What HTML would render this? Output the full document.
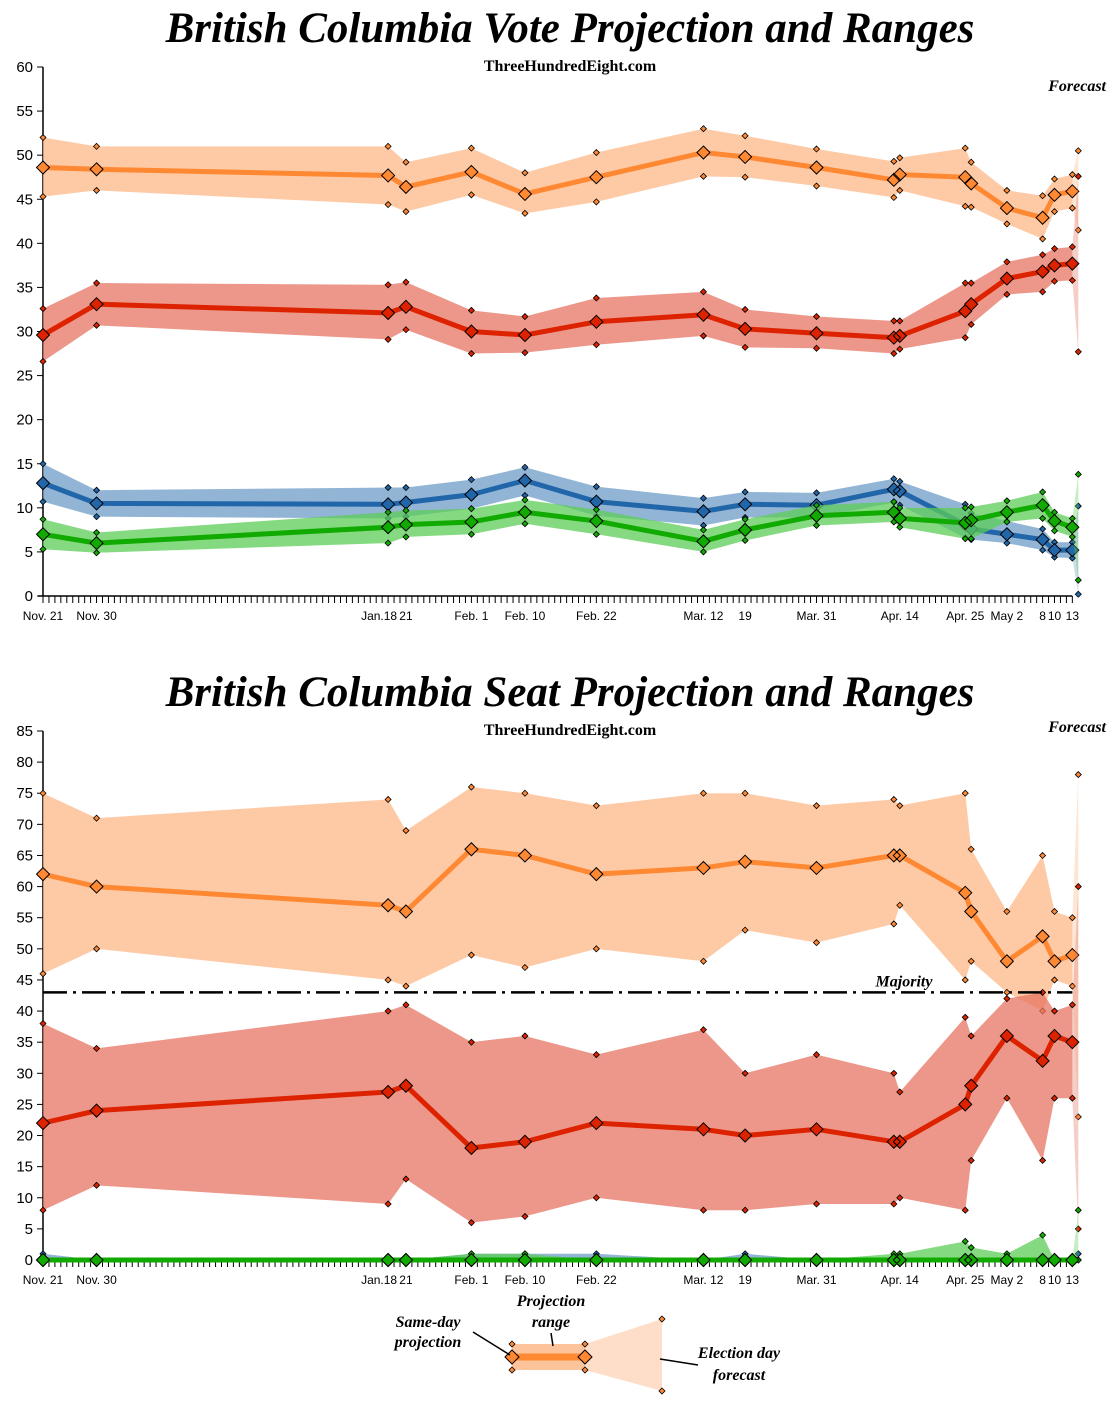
<!DOCTYPE html>
<html><head><meta charset="utf-8">
<style>
body{margin:0;background:#fff;}
svg{display:block;font-family:"Liberation Sans",Arial,sans-serif;}
.title{font-family:"Liberation Serif",serif;font-weight:bold;font-style:italic;font-size:43px;}
.sub{font-family:"Liberation Serif",serif;font-weight:bold;font-size:16px;}
.it{font-family:"Liberation Serif",serif;font-weight:bold;font-style:italic;font-size:16px;}
.tick{font-size:15px;}
.xl{font-size:12px;}
</style></head>
<body>
<svg id="svg" width="1119" height="1414" viewBox="0 0 1119 1414" xmlns="http://www.w3.org/2000/svg">
<text class="title" x="570" y="42" text-anchor="middle">British Columbia Vote Projection and Ranges</text>
<text class="sub" x="570" y="71" text-anchor="middle">ThreeHundredEight.com</text>
<text class="it" x="1106" y="91" text-anchor="end">Forecast</text>
<text class="title" x="570" y="706" text-anchor="middle">British Columbia Seat Projection and Ranges</text>
<text class="sub" x="570" y="735" text-anchor="middle">ThreeHundredEight.com</text>
<text class="it" x="1106" y="732" text-anchor="end">Forecast</text>
<g id="vote"></g>
<g id="seat"></g>
<g id="legend">
  <polygon points="585,1344 662,1319 662,1391 585,1370" fill="#fdc39a" opacity="0.55"/>
  <rect x="512" y="1344" width="73" height="26" fill="#fdc39a"/>
  <line x1="512" y1="1357" x2="585" y2="1357" stroke="#ff8833" stroke-width="7"/>
  <path d="M512,1350 L519,1357 L512,1364 L505,1357Z" fill="#ff8833" stroke="#000" stroke-width="1"/>
  <path d="M585,1350 L592,1357 L585,1364 L578,1357Z" fill="#ff8833" stroke="#000" stroke-width="1"/>
  <path d="M512,1341 L515,1344 L512,1347 L509,1344Z M512,1367 L515,1370 L512,1373 L509,1370Z M585,1341 L588,1344 L585,1347 L582,1344Z M585,1367 L588,1370 L585,1373 L582,1370Z M662,1316 L665,1319 L662,1322 L659,1319Z M662,1388 L665,1391 L662,1394 L659,1391Z" fill="#ff8833" stroke="#000" stroke-width="0.8"/>
  <line x1="473" y1="1332" x2="510" y2="1355" stroke="#000" stroke-width="1.5"/>
  <line x1="551" y1="1333" x2="553" y2="1346" stroke="#000" stroke-width="1.5"/>
  <line x1="660" y1="1359" x2="698" y2="1365" stroke="#000" stroke-width="1.5"/>
  <text class="it" x="428" y="1327" text-anchor="middle">Same-day</text>
  <text class="it" x="428" y="1347" text-anchor="middle">projection</text>
  <text class="it" x="551" y="1306" text-anchor="middle">Projection</text>
  <text class="it" x="551" y="1327" text-anchor="middle">range</text>
  <text class="it" x="739" y="1358" text-anchor="middle">Election day</text>
  <text class="it" x="739" y="1380" text-anchor="middle">forecast</text>
</g>
</svg>
<script>
// shared dates (days since Nov. 21)
const days = [0,9,58,61,72,81,93,111,118,130,143,144,155,156,162,168,170,173];
const electionDay = 174;
const xTickDays = [0,9,58,61,72,81,93,111,118,130,144,155,162,168,170,173];
const xTickLabels = ["Nov. 21","Nov. 30","Jan.18","21","Feb. 1","Feb. 10","Feb. 22","Mar. 12","19","Mar. 31","Apr. 14","Apr. 25","May 2","8","10","13"];

// vote projections (%)
const voteOrange = [48.6,48.4,47.7,46.4,48.1,45.6,47.5,50.3,49.8,48.6,47.2,47.8,47.5,46.8,44.0,42.9,45.5,45.9];
const voteOrangeLo = [45.3,46.0,44.4,43.6,45.5,43.4,44.7,47.6,47.5,46.5,45.2,46.0,44.2,44.1,42.2,40.5,43.6,44.0];
const voteOrangeHi = [52.0,51.0,51.0,49.2,50.8,48.0,50.3,53.0,52.2,50.7,49.3,49.7,50.8,49.2,46.0,45.4,47.3,47.8];
const voteOrangeElec = [41.5,50.5];
const voteRed = [29.6,33.1,32.1,32.8,30.0,29.6,31.1,31.9,30.3,29.8,29.3,29.5,32.3,33.1,36.0,36.8,37.5,37.7];
const voteRedLo = [26.6,30.7,29.1,30.2,27.5,27.6,28.5,29.5,28.2,28.1,27.5,28.0,29.3,30.8,34.2,34.5,35.7,35.8];
const voteRedHi = [32.6,35.5,35.3,35.6,32.4,31.7,33.8,34.5,32.5,31.7,31.2,31.2,35.5,35.5,37.9,38.7,39.4,39.6];
const voteRedElec = [27.7,47.6];
const voteBlue = [12.8,10.5,10.4,10.6,11.5,13.1,10.7,9.6,10.4,10.3,12.1,11.9,8.1,7.6,7.0,6.4,5.2,5.2];
const voteBlueLo = [10.7,9.0,8.8,9.0,9.9,11.4,9.1,8.0,8.9,8.9,10.6,10.3,6.6,6.4,6.0,5.2,4.4,4.3];
const voteBlueHi = [15.0,12.0,12.3,12.3,13.2,14.6,12.4,11.1,11.8,11.7,13.3,13.0,10.4,9.4,8.5,7.6,6.1,6.1];
const voteBlueElec = [0.2,10.2];
const voteGreen = [7.0,6.0,7.8,8.1,8.4,9.5,8.5,6.2,7.5,9.1,9.5,8.8,8.3,8.6,9.5,10.3,8.5,7.8];
const voteGreenLo = [5.3,4.9,6.0,6.7,7.0,8.2,7.0,5.0,6.3,8.0,8.4,7.8,6.5,6.5,8.4,8.8,7.4,6.7];
const voteGreenHi = [8.7,7.2,9.5,9.7,9.9,10.9,9.8,7.5,8.7,10.3,10.7,10.0,10.0,10.1,10.8,11.8,9.5,8.8];
const voteGreenElec = [1.8,13.8];

// seat projections
const seatOrange = [62,60,57,56,66,65,62,63,64,63,65,65,59,56,48,52,48,49];
const seatOrangeLo = [46,50,45,44,49,47,50,48,53,51,54,57,45,48,43,40,45,44];
const seatOrangeHi = [75,71,74,69,76,75,73,75,75,73,74,73,75,66,56,65,56,55];
const seatOrangeElec = [23,78];
const seatRed = [22,24,27,28,18,19,22,21,20,21,19,19,25,28,36,32,36,35];
const seatRedLo = [8,12,9,13,6,7,10,8,8,9,9,10,8,16,26,16,26,26];
const seatRedHi = [38,34,40,41,35,36,33,37,30,33,30,27,39,36,42,43,40,41];
const seatRedElec = [5,60];
const seatBlue = [0,0,0,0,0,0,0,0,0,0,0,0,0,0,0,0,0,0];
const seatBlueLo = [0,0,0,0,0,0,0,0,0,0,0,0,0,0,0,0,0,0];
const seatBlueHi = [1,0,0,0,1,1,1,0,1,0,0,0,0,0,0,0,0,0];
const seatBlueElec = [0,1];
const seatGreen = [0,0,0,0,0,0,0,0,0,0,0,0,0,0,0,0,0,0];
const seatGreenLo = [0,0,0,0,0,0,0,0,0,0,0,0,0,0,0,0,0,0];
const seatGreenHi = [0,0,0,0,1,1,0,0,0,0,1,1,3,2,1,4,0,0];
const seatGreenElec = [0,8];
const majority = 43;

const NS = "http://www.w3.org/2000/svg";
function mk(parent, tag, attrs){
  const e = document.createElementNS(NS, tag);
  for (const k in attrs) e.setAttribute(k, attrs[k]);
  parent.appendChild(e);
  return e;
}
const X0 = 43, PXD = 5.95;
function xs(d){ return X0 + d * PXD; }
function diamond(x,y,r){ return `M${x},${y-r} L${x+r},${y} L${x},${y+r} L${x-r},${y}Z`; }

function drawAxes(g, yScale, maxV, y0){
  const ax = mk(g,'line',{x1:X0,y1:y0,x2:X0,y2:yScale(maxV),stroke:'#000','stroke-width':1.5});
  
  
  const bx = mk(g,'line',{x1:X0-5,y1:y0,x2:xs(electionDay)-6,y2:y0,stroke:'#000','stroke-width':1.5});
  
  
  for (let v=0; v<=maxV; v+=5){
    const y = yScale(v);
    mk(g,'line',{x1:X0-6,y1:y,x2:X0,y2:y,stroke:'#000','stroke-width':1});
    const t = mk(g,'text',{x:X0-10,y:y+5,'text-anchor':'end',class:'tick'});
    t.textContent = v;
    
    
  }
  let p = '';
  for (let d=0; d<=173; d++){ p += `M${xs(d)},${y0} L${xs(d)},${y0+7} `; }
  mk(g,'path',{d:p,stroke:'#000','stroke-width':1});
  xTickDays.forEach((d,i)=>{
    const lab = xTickLabels[i];
    const t = mk(g,'text',{x: lab==='Jan.18' ? xs(d)+9 : xs(d),y:y0+24,'text-anchor': lab==='Jan.18' ? 'end' : 'middle',class:'xl'});
    t.textContent = lab;
    
    
  });
}

function drawSeries(g, yScale, mid, lo, hi, elec, lineCol, bandCol, name){
  const grp = mk(g,'g',{});
  
  
  let pts = days.map((d,i)=>`${xs(d)},${yScale(hi[i])}`);
  pts = pts.concat(days.slice().reverse().map((d,j)=>{const i=days.length-1-j; return `${xs(d)},${yScale(lo[i])}`;}));
  const band = mk(grp,'polygon',{points:pts.join(' '),fill:bandCol,'fill-opacity':0.75});
  
  
  const L = days.length-1, xl = xs(days[L]), xe = xs(electionDay);
  const fc = mk(grp,'polygon',{points:`${xl},${yScale(hi[L])} ${xe},${yScale(elec[1])} ${xe},${yScale(elec[0])} ${xl},${yScale(lo[L])}`,fill:bandCol,'fill-opacity':0.35});
  
  
  const line = mk(grp,'polyline',{points:days.map((d,i)=>`${xs(d)},${yScale(mid[i])}`).join(' '),fill:'none',stroke:lineCol,'stroke-width':5,'stroke-linejoin':'round'});
  
  
  let small = '';
  days.forEach((d,i)=>{ small += diamond(xs(d),yScale(lo[i]),3)+diamond(xs(d),yScale(hi[i]),3); });
  small += diamond(xe,yScale(elec[0]),3)+diamond(xe,yScale(elec[1]),3);
  mk(grp,'path',{d:small,fill:lineCol,stroke:'#000','stroke-width':0.8});
  let big = '';
  days.forEach((d,i)=>{ big += diamond(xs(d),yScale(mid[i]),6.5); });
  const bm = mk(grp,'path',{d:big,fill:lineCol,stroke:'#000','stroke-width':1});
  
  
}

const OR=['#ff8833','#fdb888'], RD=['#dd2200','#e57462'], BL=['#2266aa','#6e9cc8'], GR=['#11aa00','#5ccd57'];

// vote chart
const gv = document.getElementById('vote');
const yv = v => 596 - v*(529/60);
drawAxes(gv, yv, 60, 596);
drawSeries(gv,yv,voteOrange,voteOrangeLo,voteOrangeHi,voteOrangeElec,OR[0],OR[1],'vote-ndp');
drawSeries(gv,yv,voteRed,voteRedLo,voteRedHi,voteRedElec,RD[0],RD[1],'vote-liberal');
drawSeries(gv,yv,voteBlue,voteBlueLo,voteBlueHi,voteBlueElec,BL[0],BL[1],'vote-conservative');
drawSeries(gv,yv,voteGreen,voteGreenLo,voteGreenHi,voteGreenElec,GR[0],GR[1],'vote-green');

// seat chart
const gs = document.getElementById('seat');
const ys = v => 1260 - v*(529/85);
drawAxes(gs, ys, 85, 1260);
drawSeries(gs,ys,seatOrange,seatOrangeLo,seatOrangeHi,seatOrangeElec,OR[0],OR[1],'seat-ndp');
drawSeries(gs,ys,seatRed,seatRedLo,seatRedHi,seatRedElec,RD[0],RD[1],'seat-liberal');
drawSeries(gs,ys,seatBlue,seatBlueLo,seatBlueHi,seatBlueElec,BL[0],BL[1],'seat-conservative');
drawSeries(gs,ys,seatGreen,seatGreenLo,seatGreenHi,seatGreenElec,GR[0],GR[1],'seat-green');
const mj = mk(gs,'line',{x1:X0,y1:ys(majority),x2:xs(173),y2:ys(majority),stroke:'#000','stroke-width':2.5,'stroke-dasharray':'24,6,3,6'});


const mt = mk(gs,'text',{x:904,y:ys(majority)-6,'text-anchor':'middle',class:'it'});
mt.textContent = 'Majority';


</script>
</body></html>
